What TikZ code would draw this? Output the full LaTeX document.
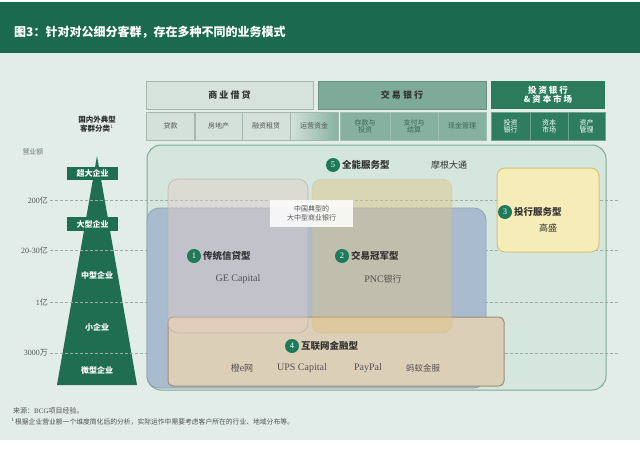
\documentclass[tikz,border=0pt]{standalone}
\usepackage{fontspec}
\setmainfont{Liberation Serif}
\newfontfamily\cjk{Noto Sans CJK SC}
\newcommand\fsz[1]{\fontsize{#1}{#1}\selectfont}
\definecolor{hdrgreen}{HTML}{1B6A4F}
\definecolor{bglight}{HTML}{E2ECE8}
\definecolor{topA}{HTML}{D6E3DD}
\definecolor{topAline}{HTML}{A7B7AF}
\definecolor{topB}{HTML}{7DAA99}
\definecolor{topC}{HTML}{2B7B5D}
\definecolor{cellA}{HTML}{D4E1DB}
\definecolor{cellAend}{HTML}{86B2A2}
\definecolor{cellB}{HTML}{86B1A1}
\definecolor{cellC}{HTML}{2E7D60}
\definecolor{txtgrey}{HTML}{555555}
\definecolor{txtgreen}{HTML}{3C6456}
\definecolor{pyrgreen}{HTML}{1F6E52}
\definecolor{dashgrey}{HTML}{A3ABA7}
\definecolor{boxfive}{HTML}{D4E6DD}
\definecolor{boxfiveline}{HTML}{7FAA94}
\definecolor{boxblue}{HTML}{A9BCCF}
\definecolor{boxblueline}{HTML}{8FA2B2}
\definecolor{boxfour}{HTML}{DCCFB8}
\definecolor{boxfourline}{HTML}{A08C72}
\definecolor{boxone}{HTML}{E6CCC4}
\definecolor{boxtwo}{HTML}{E2C27C}
\definecolor{boxthree}{HTML}{F6ECB8}
\definecolor{boxthreeline}{HTML}{D8C27A}
\definecolor{numgreen}{HTML}{1E7A5A}
\definecolor{darktxt}{HTML}{333333}
\begin{document}
\begin{tikzpicture}[x=1pt,y=-1pt,
  tophead/.style={minimum height=28, inner sep=0, align=center, font=\cjk\bfseries\fsz{9}},
  cellbox/.style={minimum height=28, inner sep=0, align=center, font=\cjk\fsz{7}, line width=0.6},
  rbox/.style={inner sep=0},
  num/.style={circle, fill=numgreen, text=white, minimum size=14, inner sep=0, font=\fsz{8.5}},
  lbl/.style={anchor=west, inner sep=0, text=darktxt, font=\cjk\bfseries\fsz{9.5}},
  exmp/.style={inner sep=0, text=darktxt!85, font=\fsz{10}},
  pyrlbl/.style={inner sep=0, text=white, font=\cjk\bfseries\fsz{8}},
  scale lbl/.style={anchor=east, inner sep=0, text=txtgrey, font=\fsz{8}},
  dashline/.style={draw=dashgrey, dashed, line width=0.6, dash pattern=on 3pt off 2pt},
]
\useasboundingbox (0,0) rectangle (640,463);
\fill[white] (0,0) rectangle (640,463);
\fill[bglight] (0,53) rectangle (640,440);
\fill[hdrgreen] (0,2) rectangle (640,53);
\node[anchor=west, inner sep=0, text=white, font=\cjk\bfseries\fsz{12}] (title) at (14,32) {图3：针对对公细分客群，存在多种不同的业务模式};

% top header row
\node[tophead, draw=topAline, fill=topA, minimum width=167, text=darktxt] (hA) at (229.5,95) {商 业 借 贷};
\node[tophead, draw=topB!85!black, fill=topB, minimum width=168, text=darktxt] (hB) at (402,95) {交 易 银 行};
\node[tophead, fill=topC, minimum width=114, text=white, font=\cjk\bfseries\fsz{8.5}] (hC) at (548,95) {投 资 银 行\\[1pt]\& 资 本 市 场};

% second row
\node[cellbox, draw=topAline, fill=cellA, minimum width=48, text=txtgrey] (s1) at (170.5,126) {贷款};
\node[cellbox, draw=topAline, fill=cellA, minimum width=47, text=txtgrey] (s2) at (218.5,126) {房地产};
\node[cellbox, draw=topAline, fill=cellA, minimum width=48, text=txtgrey] (s3) at (266,126) {融资租赁};
\node[cellbox, draw=topAline, left color=cellA, right color=cellAend, minimum width=48, text=txtgrey] (s4) at (314,126) {运营资金};
\node[cellbox, draw=cellB!80!white, fill=cellB, minimum width=50, text=txtgreen] (s5) at (365,126) {存款与\\投资};
\node[cellbox, draw=cellB!80!white, fill=cellB, minimum width=48, text=txtgreen] (s6) at (414,126) {支付与\\结算};
\node[cellbox, draw=cellB!80!white, fill=cellB, minimum width=48, text=txtgreen] (s7) at (462,126) {现金管理};
\node[cellbox, draw=cellC!70!white, fill=cellC, minimum width=39, text=white] (s8) at (510.5,126) {投资\\银行};
\node[cellbox, draw=cellC!70!white, fill=cellC, minimum width=38, text=white] (s9) at (549,126) {资本\\市场};
\node[cellbox, draw=cellC!70!white, fill=cellC, minimum width=37, text=white] (s10) at (586.5,126) {资产\\管理};

% left column
\node[inner sep=0, align=center, text=darktxt, font=\cjk\bfseries\fsz{7.5}] (cls) at (97,124) {国内外典型\\[2pt]客群分类$^{\scriptscriptstyle 1}$};
\node[inner sep=0, text=txtgrey!80, font=\cjk\fsz{7}] (rev) at (33,152) {营业额};
\fill[pyrgreen] (97,156) -- (137,385) -- (57,385) -- cycle;
\node[rbox, fill=pyrgreen, minimum width=51, minimum height=13] (p1) at (92.5,173.5) {};
\node[rbox, fill=pyrgreen, minimum width=51, minimum height=14] (p2) at (92.5,224) {};
\node[pyrlbl] (p1t) at (p1) {超大企业};
\node[pyrlbl] (p2t) at (p2) {大型企业};
\node[pyrlbl] (p3t) at (97,275) {中型企业};
\node[pyrlbl] (p4t) at (97,327) {小企业};
\node[pyrlbl] (p5t) at (97,370) {微型企业};

\node[scale lbl] (l1) at (48,200) {200{\cjk 亿}};
\node[scale lbl] (l2) at (48,250) {20-30{\cjk 亿}};
\node[scale lbl] (l3) at (48,302) {1{\cjk 亿}};
\node[scale lbl] (l4) at (48,353) {3000{\cjk 万}};

% big box 5
\node[rbox, draw=boxfiveline, line width=1, fill=boxfive, rounded corners=14, minimum width=459, minimum height=245] (b5) at (376.5,267.5) {};

% dashed level lines
\coordinate (d1a) at (50,200); \coordinate (d1b) at (620,200);
\coordinate (d2a) at (50,250); \coordinate (d2b) at (620,250);
\coordinate (d3a) at (50,302); \coordinate (d3b) at (620,302);
\coordinate (d4a) at (50,353); \coordinate (d4b) at (620,353);
\draw[dashline] (d1a) -- (d1b);
\draw[dashline] (d2a) -- (d2b);
\draw[dashline] (d3a) -- (d3b);
\draw[dashline] (d4a) -- (d4b);

% blue box
\node[rbox, draw=boxblueline, line width=0.8, fill=boxblue, rounded corners=12, minimum width=339, minimum height=180] (bb) at (316.5,298) {};
% box 4
\node[rbox, draw=boxfourline, line width=1, fill=boxfour, rounded corners=5, minimum width=336, minimum height=69] (b4) at (336,351.5) {};
% box 1
\node[rbox, draw=boxone!60!gray, draw opacity=0.7, line width=0.8, fill=boxone, fill opacity=0.4, rounded corners=10, minimum width=140, minimum height=154] (b1) at (238,256) {};
% box 2
\node[rbox, draw=boxtwo!60!gray, draw opacity=0.4, fill=boxtwo, fill opacity=0.42, rounded corners=10, minimum width=140, minimum height=154] (b2) at (382,256) {};
% box 3
\node[rbox, draw=boxthreeline, line width=1, fill=boxthree, rounded corners=8, minimum width=102, minimum height=84] (b3) at (548,210) {};
% label box
\node[rbox, fill=white, fill opacity=0.85, text opacity=1, minimum width=83, minimum height=27, align=center, text=txtgrey, font=\cjk\fsz{7}] (cn) at (311.5,213.5) {中国典型的\\[2pt]大中型商业银行};

% labels
\node[num] (c5) at (333,165) {5};
\node[lbl] (t5) at (342,165) {全能服务型};
\node[inner sep=0, text=darktxt, font=\cjk\fsz{9}] (e5) at (449,165) {摩根大通};

\node[num] (c1) at (194,256) {1};
\node[lbl] (t1) at (203,256) {传统信贷型};
\node[exmp] (e1) at (238,279) {GE Capital};

\node[num] (c2) at (342,256) {2};
\node[lbl] (t2) at (351,256) {交易冠军型};
\node[exmp] (e2) at (383,279) {PNC{\cjk\fsz{9}银行}};

\node[num] (c3) at (505,212) {3};
\node[lbl] (t3) at (514,212) {投行服务型};
\node[inner sep=0, text=darktxt, font=\cjk\fsz{9}] (e3) at (548,228) {高盛};

\node[num] (c4) at (292,346) {4};
\node[lbl] (t4) at (301,346) {互联网金融型};
\node[exmp] (e4a) at (242,368) {{\cjk\fsz{9}橙}e{\cjk\fsz{9}网}};
\node[exmp] (e4b) at (302,368) {UPS Capital};
\node[exmp] (e4c) at (368,368) {PayPal};
\node[exmp, font=\cjk\fsz{8.5}] (e4d) at (423,368) {蚂蚁金服};

% footer
\node[anchor=west, inner sep=0, text=darktxt!85, font=\cjk\fsz{7}] (src) at (13,411) {来源：\textrm{BCG}项目经验。};
\node[anchor=west, inner sep=0, text=darktxt!85, font=\cjk\fsz{6.8}] (note) at (11,422) {$^{\scriptscriptstyle 1}$根据企业营业额一个维度简化后的分析，实际运作中需要考虑客户所在的行业、地域分布等。};
\end{tikzpicture}
\end{document}
